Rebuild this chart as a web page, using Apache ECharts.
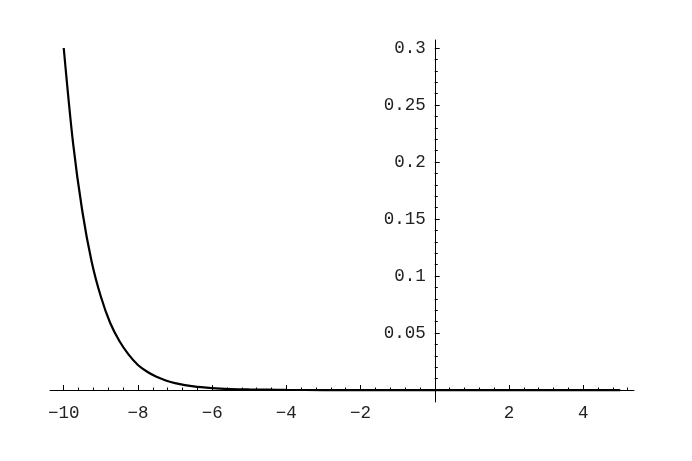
<!DOCTYPE html>
<html>
<head>
<meta charset="utf-8">
<script src="https://cdn.jsdelivr.net/npm/echarts@6/dist/echarts.min.js"></script>
<style>
html,body{margin:0;padding:0;background:#fff;}
#chart{width:692px;height:461px;}
</style>
</head>
<body>
<div id="chart"></div>
<script>
// Curve samples
var xValues = [-10, -9.75, -9.5, -9.25, -9, -8.75, -8.5, -8.25, -8, -7.75, -7.5, -7.25, -7,
               -6.5, -6, -5.5, -5, -4.5, -4, -3, -2, -1, 0, 1, 2, 3, 4, 5];
var yValues = [0.300, 0.217, 0.157, 0.113, 0.082, 0.059, 0.043, 0.031, 0.022, 0.016, 0.0116, 0.0084, 0.0061,
               0.0032, 0.0017, 0.0009, 0.0005, 0.0003, 0.0001, 0, 0, 0, 0, 0, 0, 0, 0, 0];

// Tick labels
var xTickLabels = [-10, -8, -6, -4, -2, 2, 4];
var yTickLabels = [0.05, 0.1, 0.15, 0.2, 0.25, 0.3];

var xMajorTicks = [-10, -8, -6, -4, -2, 0, 2, 4];
var yMajorTicks = [0, 0.05, 0.1, 0.15, 0.2, 0.25, 0.3];

function minorTicks(start, end, step, majors) {
  var out = [];
  var n = Math.round((end - start) / step);
  for (var i = 0; i <= n; i++) {
    var v = +(start + i * step).toFixed(4);
    var isMajor = majors.some(function (m) { return Math.abs(m - v) < 1e-6; });
    if (!isMajor) out.push(v);
  }
  return out;
}
var xMinor = minorTicks(-10, 5.2, 0.4, xMajorTicks);
var yMinor = minorTicks(0, 0.3, 0.01, yMajorTicks);

var XMIN = -10.37, XMAX = 5.37, YMIN = -0.0105, YMAX = 0.307;
var GRID = { left: 50, right: 58, top: 40, bottom: 59 };
var W = 692, H = 461;
var gridW = W - GRID.left - GRID.right;
var gridH = H - GRID.top - GRID.bottom;
// place axes through the origin (like crossing axes) by offsetting them
var xAxisOffset = -((0 - YMIN) / (YMAX - YMIN)) * gridH;
var yAxisOffset = -((0 - XMIN) / (XMAX - XMIN)) * gridW;

var labelFont = { fontFamily: 'Liberation Mono', fontSize: 17.5, color: '#222' };
var axisColor = '#000';
function fmt(v) { return String(v).replace('-', '\u2212'); }

var data = xValues.map(function (x, i) { return [x, yValues[i]]; });

var chart = echarts.init(document.getElementById('chart'), null, { renderer: 'canvas' });
chart.setOption({
  animation: false,
  backgroundColor: '#fff',
  grid: { left: GRID.left, right: GRID.right, top: GRID.top, bottom: GRID.bottom, containLabel: false },
  xAxis: [{
    type: 'value', min: XMIN, max: XMAX, position: 'bottom', offset: xAxisOffset,
    axisLine: { show: true, onZero: false, lineStyle: { color: axisColor, width: 1 } },
    axisTick: { show: true, inside: true, length: 5, customValues: xMajorTicks, lineStyle: { color: axisColor } },
    axisLabel: Object.assign({ show: true, margin: 14, customValues: xTickLabels, formatter: fmt }, labelFont),
    splitLine: { show: false }
  }, {
    type: 'value', min: XMIN, max: XMAX, position: 'bottom', offset: xAxisOffset,
    axisLine: { show: false, onZero: false },
    axisTick: { show: true, inside: true, length: 2.5, customValues: xMinor, lineStyle: { color: axisColor } },
    axisLabel: { show: false },
    splitLine: { show: false }
  }],
  yAxis: [{
    type: 'value', min: YMIN, max: YMAX, position: 'left', offset: yAxisOffset,
    axisLine: { show: true, onZero: false, lineStyle: { color: axisColor, width: 1 } },
    axisTick: { show: true, inside: true, length: 5, customValues: yMajorTicks, lineStyle: { color: axisColor } },
    axisLabel: Object.assign({ show: true, margin: 9, customValues: yTickLabels, formatter: fmt }, labelFont),
    splitLine: { show: false }
  }, {
    type: 'value', min: YMIN, max: YMAX, position: 'left', offset: yAxisOffset,
    axisLine: { show: false, onZero: false },
    axisTick: { show: true, inside: true, length: 3, customValues: yMinor, lineStyle: { color: axisColor } },
    axisLabel: { show: false },
    splitLine: { show: false }
  }],
  series: [{
    type: 'line',
    xAxisIndex: 0, yAxisIndex: 0,
    data: data,
    smooth: 0.3,
    showSymbol: false,
    lineStyle: { color: '#000', width: 2.2 },
    clip: false
  }]
});
</script>
</body>
</html>
